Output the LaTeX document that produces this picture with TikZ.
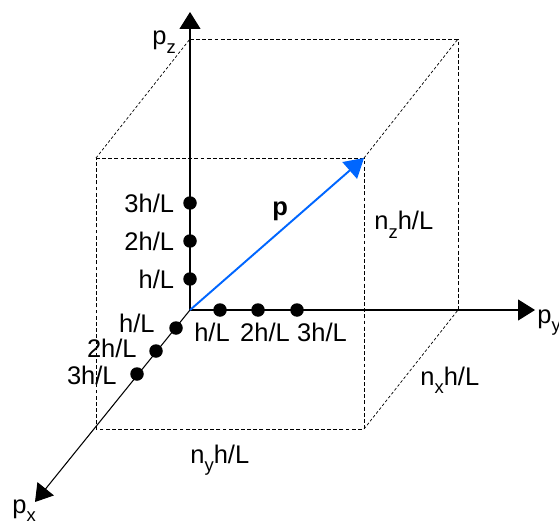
\documentclass[tikz,border=0pt]{standalone}
\usepackage{fontspec}
\setmainfont{Liberation Sans}
\usepackage{tikz}
\usetikzlibrary{positioning,arrows.meta}
\definecolor{pblue}{RGB}{0,102,255}
\newcommand{\lsub}[1]{\raisebox{-0.65ex}{\fontsize{10.5}{12}\selectfont #1}}

\begin{document}
\begin{tikzpicture}[node distance=0.17cm,
  axis/.style={line width=0.6pt,-{Triangle[length=0.34cm,width=0.42cm]}},
  boxline/.style={line width=0.5pt,dash pattern=on 2.2pt off 1.3pt},
  depthline/.style={line width=0.4pt,dash pattern=on 1.6pt off 1.2pt},
  dot/.style={circle,fill=black,minimum size=0.27cm,inner sep=0pt},
  lbl/.style={inner sep=0pt,font=\fontsize{14.5}{17}\selectfont}]
  \useasboundingbox (-3.8,-4.28) rectangle (7.38,6.2);
  % corners of the box
  \coordinate (O) at (0,0);
  \coordinate (bTL) at (0,5.42);
  \coordinate (bTR) at (5.36,5.42);
  \coordinate (bBR) at (5.36,0);
  \coordinate (fTL) at (-1.88,3.04);
  \coordinate (fTR) at (3.48,3.04);
  \coordinate (fBR) at (3.48,-2.38);
  \coordinate (fBL) at (-1.88,-2.38);
  \coordinate (ztip) at (0,5.96);
  \coordinate (ytip) at (6.9,0);
  \coordinate (xtip) at (-3.1,-3.84);
  % dashed box
  \draw[boxline] (bTL) -- (bTR) -- (bBR);
  \draw[boxline] (fTL) -- (fTR) -- (fBR) -- (fBL) -- cycle;
  \draw[depthline] (fTL) -- (bTL);
  \draw[depthline] (fTR) -- (bTR);
  \draw[depthline] (fBR) -- (bBR);
  % axes
  \draw[axis] (O) -- (ztip);
  \draw[axis] (O) -- (ytip);
  \draw[axis] (O) -- (xtip);
  \draw[line width=1.1pt,pblue,-{Triangle[length=0.38cm,width=0.44cm]}] (O) -- (fTR);
  % points on the axes
  \node[dot] (z1) at (0,0.62) {};
  \node[dot] (z2) at (0,1.38) {};
  \node[dot] (z3) at (0,2.14) {};
  \node[dot] (y1) at (0.6,0) {};
  \node[dot] (y2) at (1.36,0) {};
  \node[dot] (y3) at (2.14,0) {};
  \node[dot] (x1) at (-0.28,-0.36) {};
  \node[dot] (x2) at (-0.68,-0.82) {};
  \node[dot] (x3) at (-1.06,-1.28) {};
  \node[lbl,left=of z1] (z1l) {h/L};
  \node[lbl,left=of z2] (z2l) {2h/L};
  \node[lbl,left=of z3] (z3l) {3h/L};
  \node[lbl] (y1l) at (0.44,-0.44) {h/L};
  \node[lbl] (y2l) at (1.5,-0.44) {2h/L};
  \node[lbl] (y3l) at (2.64,-0.44) {3h/L};
  \node[lbl,anchor=east] (x1l) at (-0.7,-0.26) {h/L};
  \node[lbl,anchor=east] (x2l) at (-1.06,-0.76) {2h/L};
  \node[lbl,anchor=east] (x3l) at (-1.46,-1.3) {3h/L};
  % axis names and sizes
  \node[lbl,anchor=base west] (pz) at (-0.76,5.3) {p\lsub{z}};
  \node[lbl,anchor=base west] (py) at (6.94,-0.26) {p\lsub{y}};
  \node[lbl,anchor=base west] (px) at (-3.56,-4.06) {p\lsub{x}};
  \node[lbl,anchor=base west] (nz) at (3.68,1.6) {n\lsub{z}h/L};
  \node[lbl,anchor=base west] (nx) at (4.6,-1.5) {n\lsub{x}h/L};
  \node[lbl,anchor=base west] (ny) at (0,-3.06) {n\lsub{y}h/L};
  \node[lbl,anchor=base west,font=\fontsize{14.5}{17}\selectfont\bfseries] (p) at (1.64,1.88) {p};
\end{tikzpicture}
\end{document}
